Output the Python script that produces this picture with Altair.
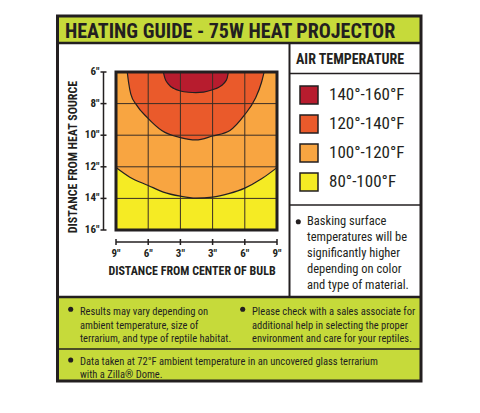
import altair as alt
import pandas as pd

# ---------------- data ----------------
band_labels = ["140°-160°F", "120°-140°F", "100°-120°F", "80°-100°F"]
band_colors = ["#b71c2e", "#ea5a2b", "#f8a541", "#f5eb24"]

x_tick_pos = [0, 1, 2, 3, 4, 5]
x_tick_labels = ['9"', '6"', '3"', '3"', '6"', '9"']
y_tick_pos = [6, 8, 10, 12, 14, 16]
y_tick_labels = ['6"', '8"', '10"', '12"', '14"', '16"']
grid_x = [1, 2, 3, 4]
grid_y = [8, 10, 12, 14]

# 140-160 zone boundary (distance from heat source vs. column position)
hot_x = [1.47, 1.52, 1.62, 1.80, 2.00, 2.25, 2.48, 2.72, 3.00, 3.18, 3.35, 3.45, 3.49]
hot_y = [6.00, 6.40, 6.75, 7.05, 7.20, 7.28, 7.30, 7.27, 7.12, 6.98, 6.72, 6.40, 6.00]
# 120-140 zone boundary
warm_x = [0.35, 0.39, 0.46, 0.64, 0.98, 1.42, 2.00, 2.48, 3.00, 3.54, 3.98, 4.32, 4.52, 4.60]
warm_y = [6.00, 6.65, 7.40, 8.10, 8.90, 9.70, 10.15, 10.30, 10.05, 9.70, 8.75, 7.70, 6.65, 6.00]
# 100-120 / 80-100 boundary
cool_x = [0.00, 0.43, 1.00, 1.47, 2.00, 2.48, 3.00, 3.50, 4.00, 4.52, 5.00]
cool_y = [12.05, 12.66, 13.18, 13.60, 13.86, 13.98, 13.92, 13.70, 13.35, 12.76, 12.05]

Y_TOP, Y_BOT = 6, 16
X_MIN, X_MAX = 0, 5

# ---------------- tables ----------------
def band_df(xs, top, bot, band):
    return pd.DataFrame({"x": xs, "top": top, "bot": bot, "band": band})

df_orange = band_df(cool_x, [Y_TOP] * len(cool_x), cool_y, band_labels[2])
df_yellow = band_df(cool_x, cool_y, [Y_BOT] * len(cool_x), band_labels[3])
df_warm = band_df(warm_x, [Y_TOP] * len(warm_x), warm_y, band_labels[1])
df_hot = band_df(hot_x, [Y_TOP] * len(hot_x), hot_y, band_labels[0])

df_lines = pd.concat([
    pd.DataFrame({"x": hot_x, "y": hot_y, "curve": "hot"}),
    pd.DataFrame({"x": warm_x, "y": warm_y, "curve": "warm"}),
    pd.DataFrame({"x": cool_x, "y": cool_y, "curve": "cool"}),
])
df_xt = pd.DataFrame({"t": x_tick_pos, "lab": x_tick_labels})
df_yt = pd.DataFrame({"t": y_tick_pos, "lab": y_tick_labels})
df_xdom = pd.DataFrame({"a": [X_MIN], "b": [X_MAX]})
df_ydom = pd.DataFrame({"a": [Y_TOP], "b": [Y_BOT]})

# ---------------- styling ----------------
NARROW = "Liberation Sans Narrow, Roboto Condensed, DejaVu Sans Condensed, Arial Narrow, sans-serif"
INK = "#231f20"
GREEN = "#c6da3a"
W, H = 161, 158

xscale = alt.Scale(domain=[X_MIN, X_MAX], nice=False, zero=False)
yscale = alt.Scale(domain=[Y_TOP, Y_BOT], reverse=True, nice=False, zero=False)


def X(f):
    return alt.X(f, scale=xscale, axis=None)


def Y(f):
    return alt.Y(f, scale=yscale, axis=None)


color = alt.Color("band:N", scale=alt.Scale(domain=band_labels, range=band_colors),
                  legend=alt.Legend(title="AIR TEMPERATURE", orient="none", legendX=180, legendY=-19,
                                    padding=0, titleFont=NARROW, titleFontSize=14,
                                    titleFontWeight="bold", titleColor=INK, titlePadding=18,
                                    symbolType="square", symbolSize=324, symbolStrokeColor=INK,
                                    symbolStrokeWidth=1.5, symbolOpacity=1, symbolOffset=3,
                                    labelFont=NARROW, labelFontSize=17, labelColor=INK,
                                    labelOffset=10, rowPadding=5, zindex=2))

one = pd.DataFrame({"a": [0]})


def area(df):
    return alt.Chart(df).mark_area(interpolate="monotone", orient="vertical", opacity=1).encode(
        x=X("x:Q"), y=Y("top:Q"), y2="bot:Q", color=color)


def box(x, x2, y, y2, **kw):
    return alt.Chart(one).mark_rect(**kw).encode(
        x=alt.value(x), x2=alt.value(x2), y=alt.value(y), y2=alt.value(y2))


def hline(x, x2, y, width=1.5):
    return alt.Chart(one).mark_rule(color=INK, strokeWidth=width).encode(
        x=alt.value(x), x2=alt.value(x2), y=alt.value(y))


def vline(x, y, y2, width=2):
    return alt.Chart(one).mark_rule(color=INK, strokeWidth=width).encode(
        x=alt.value(x), y=alt.value(y), y2=alt.value(y2))


def text(s, x, y, size, bold=False, lh=None, **kw):
    props = dict(align="left", baseline="alphabetic", font=NARROW, fontSize=size,
                 fontWeight="bold" if bold else "normal", color=INK)
    if lh:
        props.update(lineBreak="\n", lineHeight=lh)
    props.update(kw)
    return alt.Chart(one).mark_text(**props).encode(
        x=alt.value(x), y=alt.value(y), text=alt.value(s))


def bullet(x, y):
    return alt.Chart(one).mark_circle(color=INK, size=26, opacity=1).encode(
        x=alt.value(x), y=alt.value(y))


# frame & panels (pixel layout relative to the plot origin)
frame_bg = box(-58.5, 305, -56, 309, fill="white")
title_bar = box(-58.5, 305, -56, -29, fill=GREEN)
bottom_bar = box(-58.5, 305, 225, 309, fill=GREEN)
frame = box(-58.5, 305, -56, 309, fillOpacity=0, stroke=INK, strokeWidth=3)

lines_deco = [
    hline(-58.5, 305, -29, 2.5),
    vline(173.5, -29, 225, 2),
    hline(173.5, 305, 1.5, 1.5),
    hline(173.5, 305, 133, 1.5),
    hline(-58.5, 305, 225, 2.5),
    hline(-58.5, 305, 277, 1.5),
]

title_txt = text("HEATING GUIDE - 75W HEAT PROJECTOR", -51, -34, 20, bold=True)
ytitle = text("DISTANCE FROM HEAT SOURCE", -43, 85, 12, bold=True, angle=270,
              align="center", baseline="middle")
xtitle = text("DISTANCE FROM CENTER OF BULB", 76, 199, 12, bold=True, align="center",
              baseline="middle")
bask = text("Basking surface\ntemperatures will be\nsignificantly higher\ndepending on color\nand type of material.",
            191, 153, 12.5, lh=16)
note1 = text("Results may vary depending on\nambient temperature, size of\nterrarium, and type of reptile habitat.",
             -36, 243, 10.5, lh=13.5)
note2 = text("Please check with a sales associate for\nadditional help in selecting the proper\nenvironment and care for your reptiles.",
             136, 243, 10.5, lh=13.5)
note3 = text("Data taken at 72°F ambient temperature in an uncovered glass terrarium\nwith a Zilla® Dome.",
             -36, 292.5, 10.5, lh=13.5)

# plot content
grid_v = alt.Chart(pd.DataFrame({"gx": grid_x})).mark_rule(color="#3a2e26", strokeWidth=1).encode(
    x=X("gx:Q"))
grid_h = alt.Chart(pd.DataFrame({"gy": grid_y})).mark_rule(color="#3a2e26", strokeWidth=1).encode(
    y=Y("gy:Q"))
curves = alt.Chart(df_lines).mark_line(color=INK, strokeWidth=1.2, interpolate="monotone").encode(
    x=X("x:Q"), y=Y("y:Q"), detail="curve:N")
border = alt.Chart(df_xdom.assign(c=Y_TOP, d=Y_BOT)).mark_rect(
    fillOpacity=0, stroke=INK, strokeWidth=3).encode(x=X("a:Q"), x2="b:Q", y=Y("c:Q"), y2="d:Q")
# detached axis lines with crossing ticks and labels
xdomain = alt.Chart(df_xdom).mark_rule(color=INK, strokeWidth=1.5).encode(
    x=X("a:Q"), x2="b:Q", y=alt.value(H + 12))
ydomain = alt.Chart(df_ydom).mark_rule(color=INK, strokeWidth=1.5).encode(
    y=Y("a:Q"), y2="b:Q", x=alt.value(-12.5))
xticks = alt.Chart(df_xt).mark_rule(color=INK, strokeWidth=1.5).encode(
    x=X("t:Q"), y=alt.value(H + 9), y2=alt.value(H + 15))
yticks = alt.Chart(df_yt).mark_rule(color=INK, strokeWidth=1.5).encode(
    y=Y("t:Q"), x=alt.value(-15.5), x2=alt.value(-9.5))
xlabels = alt.Chart(df_xt).mark_text(font=NARROW, fontWeight="bold", fontSize=11, color=INK,
                                     align="center", baseline="top").encode(
    x=X("t:Q"), y=alt.value(H + 18), text="lab:N")
ylabels = alt.Chart(df_yt).mark_text(font=NARROW, fontWeight="bold", fontSize=11, color=INK,
                                     align="right", baseline="middle").encode(
    y=Y("t:Q"), x=alt.value(-16.5), text="lab:N")

chart = alt.layer(
    frame_bg, title_bar, bottom_bar,
    area(df_orange), area(df_yellow), area(df_warm), area(df_hot),
    grid_v, grid_h, curves, border, xdomain, ydomain, xticks, yticks, xlabels, ylabels,
    *lines_deco, frame,
    title_txt, ytitle, xtitle, bask, note1, note2, note3,
    bullet(182.3, 149.7), bullet(-45.3, 237.3), bullet(126.7, 237.3), bullet(-45.3, 288),
).properties(
    width=W, height=H,
    autosize=alt.AutoSizeParams(type="none"),
    padding={"left": 108, "top": 64, "right": 195, "bottom": 175},
).configure_view(stroke=None)

chart.save("out.html", embed_options={"renderer": "svg", "actions": False})
